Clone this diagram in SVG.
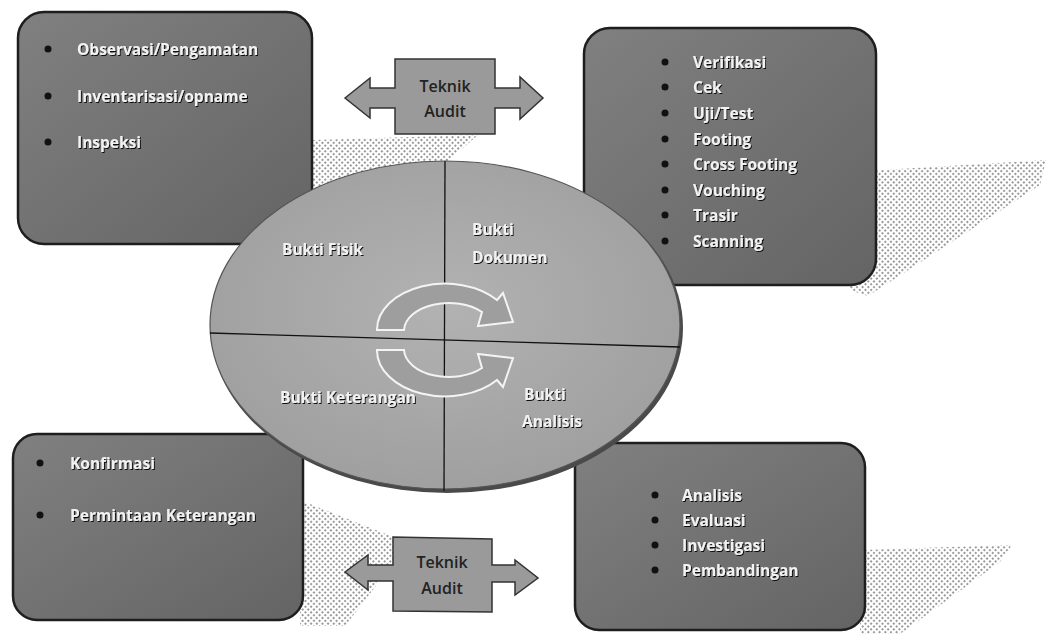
<svg xmlns="http://www.w3.org/2000/svg" width="1050" height="634" viewBox="0 0 1050 634">
<style>
.box{stroke:#1e1e1e;stroke-width:2.5;fill:url(#boxg)}
.lt{font-family:"Open Sans","Liberation Sans",sans-serif;font-weight:700;font-size:15.5px;fill:#f2f2f2;filter:url(#sh)}
.dot{fill:#111}
.ta{font-family:"Open Sans","Liberation Sans",sans-serif;font-weight:600;font-size:16px;fill:#222;text-anchor:middle}
.tabox{fill:#9a9a9a;stroke:#333;stroke-width:1.5}
.hatch{fill:url(#hp)}
.ring{fill:#9e9e9e;stroke:#f4f4f4;stroke-width:2}
</style>
<defs>
<linearGradient id="boxg" x1="0" y1="0" x2="1" y2="1">
<stop offset="0" stop-color="#808080"/><stop offset="1" stop-color="#646464"/>
</linearGradient>
<radialGradient id="elg" cx="0.5" cy="0.45" r="0.6">
<stop offset="0" stop-color="#b2b2b2"/><stop offset="1" stop-color="#9e9e9e"/>
</radialGradient>
<pattern id="hp" width="4" height="4" patternUnits="userSpaceOnUse" patternTransform="rotate(45)">
<rect width="4" height="4" fill="#ffffff"/>
<rect x="0" y="0" width="2" height="2" fill="#9a9a9a"/>
</pattern>
<filter id="sh" x="-10%" y="-30%" width="130%" height="160%">
<feDropShadow dx="1" dy="1" stdDeviation="0.6" flood-color="#000" flood-opacity="0.9"/>
</filter>
</defs>
<rect width="1050" height="634" fill="#ffffff"/>

<g id="shadows">
<polygon class="hatch" points="313,140 478,135 440,168 313,235"/>
<polygon class="hatch" points="850,172 1046,160 1040,185 868,296 850,290"/>
<polygon class="hatch" points="300,500 396,538 396,560 345,626 300,626"/>
<polygon class="hatch" points="860,550 1012,545 1000,562 900,634 860,634"/>
</g>

<g id="box-fisik">
<rect class="box" x="18" y="12" width="294" height="232" rx="26"/>
<circle class="dot" cx="48" cy="49" r="3.5"/><text class="lt" x="77" y="55">Observasi/Pengamatan</text>
<circle class="dot" cx="48" cy="96" r="3.5"/><text class="lt" x="77" y="102">Inventarisasi/opname</text>
<circle class="dot" cx="48" cy="142" r="3.5"/><text class="lt" x="77" y="148">Inspeksi</text>
</g>

<g id="box-dokumen">
<rect class="box" x="584" y="28" width="292" height="257" rx="26"/>
<circle class="dot" cx="665" cy="62" r="3.5"/><text class="lt" x="693" y="68">Verifikasi</text>
<circle class="dot" cx="665" cy="87" r="3.5"/><text class="lt" x="693" y="93">Cek</text>
<circle class="dot" cx="665" cy="113" r="3.5"/><text class="lt" x="693" y="119">Uji/Test</text>
<circle class="dot" cx="665" cy="139" r="3.5"/><text class="lt" x="693" y="145">Footing</text>
<circle class="dot" cx="665" cy="164" r="3.5"/><text class="lt" x="693" y="170">Cross Footing</text>
<circle class="dot" cx="665" cy="190" r="3.5"/><text class="lt" x="693" y="196">Vouching</text>
<circle class="dot" cx="665" cy="215" r="3.5"/><text class="lt" x="693" y="221">Trasir</text>
<circle class="dot" cx="665" cy="241" r="3.5"/><text class="lt" x="693" y="247">Scanning</text>
</g>

<g id="box-keterangan">
<rect class="box" x="13" y="434" width="290" height="186" rx="24"/>
<circle class="dot" cx="40" cy="463" r="3.5"/><text class="lt" x="70" y="469">Konfirmasi</text>
<circle class="dot" cx="40" cy="515" r="3.5"/><text class="lt" x="70" y="521">Permintaan Keterangan</text>
</g>

<g id="box-analisis">
<rect class="box" x="575" y="443" width="290" height="187" rx="24"/>
<circle class="dot" cx="655" cy="495" r="3.5"/><text class="lt" x="682" y="501">Analisis</text>
<circle class="dot" cx="655" cy="520" r="3.5"/><text class="lt" x="682" y="526">Evaluasi</text>
<circle class="dot" cx="655" cy="545" r="3.5"/><text class="lt" x="682" y="551">Investigasi</text>
<circle class="dot" cx="655" cy="570" r="3.5"/><text class="lt" x="682" y="576">Pembandingan</text>
</g>

<g id="ellipse">
<ellipse cx="447" cy="328" rx="236" ry="165" fill="#4a4a4a"/>
<ellipse cx="445" cy="325" rx="235" ry="164" fill="url(#elg)" stroke="#555" stroke-width="1.2"/>
<line x1="445" y1="161" x2="444" y2="491" stroke="#111" stroke-width="1.3"/>
<line x1="210" y1="333" x2="680" y2="347" stroke="#111" stroke-width="1.3"/>
<text class="lt" x="282" y="255">Bukti Fisik</text>
<text class="lt" x="472" y="235">Bukti</text>
<text class="lt" x="472" y="263">Dokumen</text>
<text class="lt" x="280" y="403">Bukti Keterangan</text>
<text class="lt" x="524" y="400">Bukti</text>
<text class="lt" x="522" y="427">Analisis</text>
</g>

<g id="cycle">
<path class="ring" d="M377,330 A68,46 0 0 1 497,300 L503,293 L513,322 L478,326 L482,312 A45,28 0 0 0 404,330 Z"/>
<path class="ring" d="M377,350 A68,46 0 0 0 497,380 L503,387 L513,358 L478,354 L482,368 A45,28 0 0 1 404,350 Z"/>
</g>

<g id="connectors">
<g id="teknik-top">
<polygon class="tabox" points="345,98 370,78 370,88 395,88 395,59 495,59 495,88 520,88 520,77 543,98 520,119 520,108 495,108 495,134 395,134 395,108 370,108 370,118"/>
<text class="ta" x="445" y="92">Teknik</text>
<text class="ta" x="445" y="117">Audit</text>
</g>
<g id="teknik-bottom">
<polygon class="tabox" points="345,572 368,555 368,565 393,565 393,537 492,539 492,565 515,565 515,560 538,578 515,595 515,582 492,582 492,612 393,611 393,581 368,581 368,590"/>
<text class="ta" x="442" y="568">Teknik</text>
<text class="ta" x="442" y="594">Audit</text>
</g>
</g>
</svg>
